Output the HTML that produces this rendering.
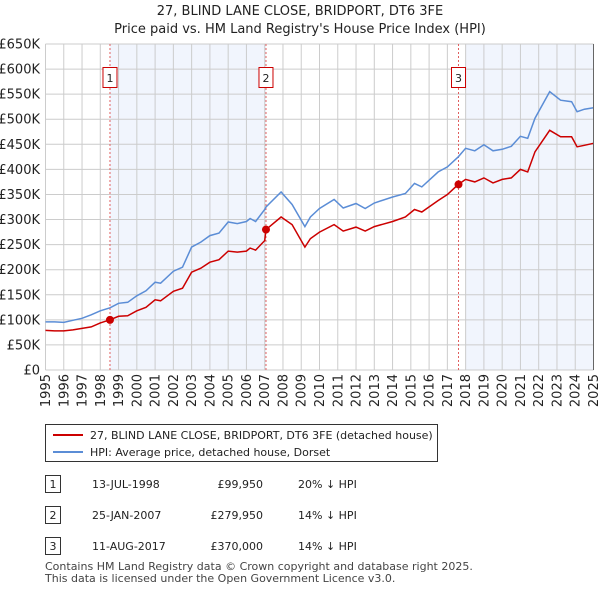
<!DOCTYPE html>
<html><head><meta charset="utf-8"><style>
body{margin:0;background:#fff;font-family:"Liberation Sans","DejaVu Sans",sans-serif;}
svg text{font-family:"DejaVu Sans","Liberation Sans",sans-serif;}
</style></head><body>
<svg id="c" width="600" height="590" xmlns="http://www.w3.org/2000/svg">
<text x="300" y="15" text-anchor="middle" font-size="13" fill="#222">27, BLIND LANE CLOSE, BRIDPORT, DT6 3FE</text>
<text x="300" y="33" text-anchor="middle" font-size="13" fill="#222">Price paid vs. HM Land Registry's House Price Index (HPI)</text>
<g id="plot"></g>
<g>
<rect x="45.5" y="424.5" width="392" height="37" fill="#fff" stroke="#333"/>
<line x1="53" y1="435" x2="83" y2="435" stroke="#cc0000" stroke-width="2"/>
<text x="90" y="439" font-size="11" fill="#222">27, BLIND LANE CLOSE, BRIDPORT, DT6 3FE (detached house)</text>
<line x1="53" y1="452" x2="83" y2="452" stroke="#5b8dd6" stroke-width="2"/>
<text x="90" y="456" font-size="11" fill="#222">HPI: Average price, detached house, Dorset</text>
</g>
<g font-size="11" fill="#222">
<rect x="45.5" y="475.5" width="15" height="17" fill="#fff" stroke="#333"/><text x="53" y="488" text-anchor="middle">1</text>
<text x="92" y="488">13-JUL-1998</text><text x="263" y="488" text-anchor="end">£99,950</text><text x="298" y="488">20% ↓ HPI</text>
<rect x="45.5" y="506.5" width="15" height="17" fill="#fff" stroke="#333"/><text x="53" y="519" text-anchor="middle">2</text>
<text x="92" y="519">25-JAN-2007</text><text x="263" y="519" text-anchor="end">£279,950</text><text x="298" y="519">14% ↓ HPI</text>
<rect x="45.5" y="537.5" width="15" height="17" fill="#fff" stroke="#333"/><text x="53" y="550" text-anchor="middle">3</text>
<text x="92" y="550">11-AUG-2017</text><text x="263" y="550" text-anchor="end">£370,000</text><text x="298" y="550">14% ↓ HPI</text>
</g>
<text x="45" y="570" font-size="11" fill="#444">Contains HM Land Registry data © Crown copyright and database right 2025.</text>
<text x="45" y="582" font-size="11" fill="#444">This data is licensed under the Open Government Licence v3.0.</text>
</svg>
<script>
const years=[1995,1995.5,1996,1996.5,1997,1997.5,1998,1998.53,1999,1999.5,2000,2000.5,2001,2001.3,2002,2002.5,2003,2003.5,2004,2004.5,2005,2005.5,2006,2006.2,2006.5,2007,2007.07,2007.9,2008.5,2009.2,2009.5,2010,2010.8,2011.3,2012,2012.5,2013,2014,2014.7,2015.2,2015.6,2016.5,2017,2017.6,2018,2018.5,2019,2019.5,2020,2020.5,2021,2021.4,2021.8,2022.6,2023.2,2023.8,2024.1,2024.5,2025];
const hpiValues=[96,96,95,99,103,110,118,124,133,135,148,158,175,173,197,205,245,255,268,273,295,292,296,302,296,320,325,355,330,286,305,322,340,323,332,322,333,345,352,372,365,395,405,425,442,437,449,437,440,446,466,462,502,555,538,535,515,520,523];
const priceValues=[79,78,78,80,83,86,94,100,107,108,118,125,140,138,157,163,195,203,215,220,237,235,237,243,239,258,280,305,290,245,262,275,290,277,285,277,286,296,305,320,315,338,350,370,380,375,383,373,380,383,400,395,435,478,465,465,445,448,452];
const saleYears=[1998.53,2007.07,2017.61];
const saleValues=[99.95,279.95,370];
const saleLabels=["1","2","3"];
const yTicks=[0,50,100,150,200,250,300,350,400,450,500,550,600,650];
const xTicks=[1995,1996,1997,1998,1999,2000,2001,2002,2003,2004,2005,2006,2007,2008,2009,2010,2011,2012,2013,2014,2015,2016,2017,2018,2019,2020,2021,2022,2023,2024,2025];
const X0=45.5,X1=593.5,Y0=370,Y1=44;
const xs=y=>X0+(y-1995)/(2025-1995)*(X1-X0);
const ys=v=>Y0-v/650*(Y0-Y1);
const NS="http://www.w3.org/2000/svg";
const g=document.getElementById('plot');
function mk(t,a){const e=document.createElementNS(NS,t);for(const k in a)e.setAttribute(k,a[k]);g.appendChild(e);return e;}
let e;
e=mk('rect',{x:xs(saleYears[0]),y:Y1,width:xs(saleYears[1])-xs(saleYears[0]),height:Y0-Y1,fill:'#eef3fc',opacity:0.8});


e=mk('rect',{x:xs(2018),y:Y1,width:X1-xs(2018),height:Y0-Y1,fill:'#eef3fc',opacity:0.8});


yTicks.forEach(v=>{
 e=mk('line',{x1:X0,x2:X1,y1:ys(v),y2:ys(v),stroke:'#ccc'});
 
 
 e=mk('text',{x:40,y:ys(v)+4.5,'text-anchor':'end','font-size':13,fill:'#222'});
 e.textContent=v===0?'£0':'£'+v+'K';
 
 
});
xTicks.forEach(y=>{
 e=mk('line',{x1:xs(y),x2:xs(y),y1:Y1,y2:Y0,stroke:'#ccc'});
 
 
 e=mk('text',{x:0,y:0,'text-anchor':'end','font-size':13,fill:'#222',transform:`translate(${xs(y)+4.5},374) rotate(-90)`});
 e.textContent=y;
 
 
});
saleYears.forEach((s,i)=>{
 e=mk('line',{x1:xs(s),x2:xs(s),y1:Y1,y2:Y0,stroke:'#e06060','stroke-dasharray':'2,2'});
 
 
 e=mk('rect',{x:xs(s)-7,y:67.5,width:14,height:20,fill:'#fff',stroke:'#cc0000'});
 
 
 e=mk('text',{x:xs(s),y:82,'text-anchor':'middle','font-size':11,fill:'#222'});
 e.textContent=saleLabels[i];
 
 
});
const path=arr=>arr.map((v,i)=>(i?'L':'M')+xs(years[i]).toFixed(1)+','+ys(v).toFixed(1)).join('');
e=mk('path',{d:path(hpiValues),fill:'none',stroke:'#5b8dd6','stroke-width':1.5});


e=mk('path',{d:path(priceValues),fill:'none',stroke:'#cc0000','stroke-width':1.5});


saleYears.forEach((s,i)=>{
 e=mk('circle',{cx:xs(s),cy:ys(saleValues[i]),r:4,fill:'#cc0000'});
 
 
});
e=mk('line',{x1:X1,x2:X1,y1:Y1,y2:Y0,stroke:'#666'});


</script>
</body></html>
